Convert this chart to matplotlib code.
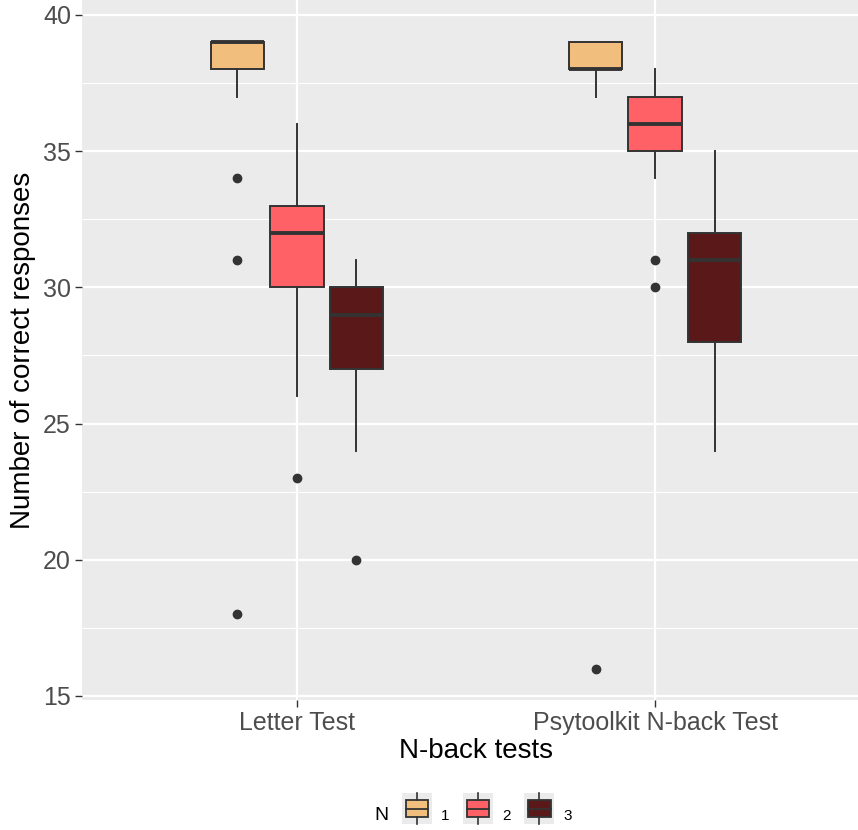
import matplotlib.pyplot as plt
from matplotlib.legend_handler import HandlerBase
from matplotlib.patches import Rectangle
from matplotlib.lines import Line2D

plt.rcParams['font.family'] = ['Liberation Sans', 'DejaVu Sans']

tests = ["Letter Test", "Psytoolkit N-back Test"]
levels = ["1", "2", "3"]
colors = ["#F2BE7D", "#FF6166", "#5A1818"]

# per test, per N: q1, median, q3, lower whisker, upper whisker
q1 = [[38, 30, 27], [38, 35, 28]]
med = [[39, 32, 29], [38, 36, 31]]
q3 = [[39, 33, 30], [39, 37, 32]]
whislo = [[37, 26, 24], [37, 34, 24]]
whishi = [[39, 36, 31], [39, 38, 35]]
fliers = [[[34, 31, 18], [23], [20]], [[16], [31, 30], []]]

edge = "#333333"
fig = plt.figure(figsize=(8.58, 8.3), dpi=100)
ax = fig.add_axes([82 / 858, 1 - 700 / 830, 788 / 858, 700 / 830])
ax.set_facecolor("#EBEBEB")

offsets = [-0.166, 0, 0.166]
for i in range(len(tests)):
    for j in range(len(levels)):
        st = dict(med=med[i][j], q1=q1[i][j], q3=q3[i][j],
                  whislo=whislo[i][j], whishi=whishi[i][j],
                  fliers=fliers[i][j])
        ax.bxp([st], positions=[i + 1 + offsets[j]], widths=0.15,
               patch_artist=True, showcaps=False, zorder=3,
               boxprops=dict(facecolor=colors[j], edgecolor=edge, linewidth=1.4),
               medianprops=dict(color=edge, linewidth=2.8),
               whiskerprops=dict(color=edge, linewidth=1.4),
               flierprops=dict(marker="o", markerfacecolor=edge,
                               markeredgecolor=edge, markersize=6))

ax.set_xlim(0.4, 2.6)
ax.set_ylim(14.85, 40.55)
ax.set_xticks([1, 2])
ax.set_xticklabels(tests)
ax.set_yticks([15, 20, 25, 30, 35, 40])
ax.set_yticks([17.5, 22.5, 27.5, 32.5, 37.5], minor=True)
ax.grid(True, which="major", color="white", linewidth=1.6, zorder=0)
ax.grid(True, which="minor", axis="y", color="white", linewidth=0.8, zorder=0)
ax.set_axisbelow(True)
for s in ax.spines.values():
    s.set_visible(False)
ax.tick_params(which="major", length=5, width=1, color=edge,
               labelsize=18, labelcolor="#4D4D4D", pad=3)
ax.tick_params(which="minor", length=0)
ax.set_ylabel("Number of correct responses", fontsize=20, color="black", labelpad=5)
ax.set_xlabel("N-back tests", fontsize=20, color="black", labelpad=2)


class BoxKey(HandlerBase):
    def create_artists(self, legend, orig, x0, y0, w, h, fs, trans):
        bg = Rectangle((x0, y0 - 5), w, h + 10, facecolor="#EBEBEB",
                       edgecolor="none", transform=trans)
        box = Rectangle((x0 + w * 0.12, y0), w * 0.76, h, facecolor=orig.get_facecolor(),
                        edgecolor=edge, linewidth=1.3, transform=trans)
        m = Line2D([x0 + w * 0.12, x0 + w * 0.88], [y0 + h / 2, y0 + h / 2],
                   color=edge, linewidth=1.3, transform=trans)
        t = Line2D([x0 + w / 2, x0 + w / 2], [y0 + h, y0 + h + 5],
                   color=edge, linewidth=1.2, transform=trans)
        b = Line2D([x0 + w / 2, x0 + w / 2], [y0, y0 - 5],
                   color=edge, linewidth=1.2, transform=trans)
        return [bg, box, m, t, b]


handles = [Rectangle((0, 0), 1, 1, facecolor=c) for c in colors]
fig.legend(handles, levels, handler_map={Rectangle: BoxKey()}, ncol=3,
           loc="center", bbox_to_anchor=(487 / 858, 1 - 815 / 830), frameon=False,
           fontsize=11, handlelength=1.95, handleheight=1.3, columnspacing=0.9,
           handletextpad=0.6, borderpad=0.2)
fig.text(381 / 858, 1 - 815 / 830, "N", fontsize=14, ha="center", va="center")

fig.savefig("out.png", dpi=100)
